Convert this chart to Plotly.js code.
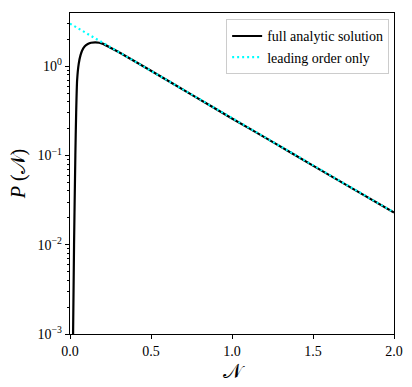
<!DOCTYPE html>
<html>
<head>
<meta charset="utf-8">
<script src="https://cdn.plot.ly/plotly-3.0.1.min.js"></script>
<style>
  html, body { margin: 0; padding: 0; background: white; }
  #chart { width: 412px; height: 387px; }
</style>
</head>
<body>
<div id="chart"></div>
<script>
// full analytic solution
var fullN = [0.019, 0.025, 0.033, 0.038, 0.044, 0.054, 0.065, 0.075, 0.09, 0.11, 0.13, 0.157, 0.18, 0.2, 0.25, 0.3, 0.5, 0.75, 1.0, 1.25, 1.5, 1.75, 2.0];
var fullP = [0.001, 0.01, 0.1, 0.3, 0.7, 1.07, 1.33, 1.5, 1.66, 1.77, 1.83, 1.85, 1.83, 1.79, 1.61, 1.44, 0.89, 0.48, 0.26, 0.142, 0.077, 0.042, 0.023];

// leading order only
var leadN = [0.0, 0.25, 0.5, 0.75, 1.0, 1.25, 1.5, 1.75, 2.0];
var leadP = [3.0, 1.63, 0.89, 0.48, 0.26, 0.142, 0.077, 0.042, 0.023];

var yTickVals = [0.001, 0.01, 0.1, 1];
var yTickText = ['10<sup>\u22123</sup>', '10<sup>\u22122</sup>', '10<sup>\u22121</sup>', '10<sup>0</sup>'];

var serif = '"Liberation Serif", "DejaVu Serif", serif';

var full = {
    x: fullN, y: fullP,
    type: 'scatter', mode: 'lines',
    name: 'full analytic solution',
    line: { color: 'black', width: 2.2, shape: 'spline', smoothing: 0.6 }
};

var lead = {
    x: leadN, y: leadP,
    type: 'scatter', mode: 'lines',
    name: 'leading order only',
    line: { color: '#00ffff', width: 2.2, dash: '2px,3px' }
};

var layout = {
    width: 412, height: 387,
    margin: { l: 70, r: 18, t: 13, b: 53 },
    paper_bgcolor: 'white',
    plot_bgcolor: 'white',
    font: { family: serif, size: 13, color: 'black' },
    showlegend: true,
    legend: {
        x: 0.985, y: 0.98, xanchor: 'right', yanchor: 'top',
        bgcolor: 'white', bordercolor: '#cccccc', borderwidth: 1,
        font: { family: serif, size: 14 },
        tracegroupgap: 0
    },
    xaxis: {
        range: [0, 2],
        tickvals: [0, 0.5, 1, 1.5, 2],
        tickformat: '.1f',
        ticks: 'outside', ticklen: 4, tickcolor: 'black',
        showline: true, linecolor: 'black', linewidth: 1.3, mirror: true,
        showgrid: false, zeroline: false,
        tickfont: { family: serif, size: 14 },
        title: { text: '\ud835\udca9', font: { family: serif, size: 20 }, standoff: 6 }
    },
    yaxis: {
        type: 'log',
        range: [-3, 0.596],
        tickmode: 'array',
        tickvals: yTickVals,
        ticktext: yTickText,
        ticks: 'outside', ticklen: 4, tickcolor: 'black',
        minor: { ticks: 'outside', ticklen: 2, tickcolor: 'black', dtick: 'D1', showgrid: false },
        showline: true, linecolor: 'black', linewidth: 1.3, mirror: true,
        showgrid: false, zeroline: false,
        tickfont: { family: serif, size: 14 },
        title: { text: '<i>P</i> (\ud835\udca9)', font: { family: serif, size: 20 }, standoff: 6 }
    }
};

Plotly.newPlot('chart', [full, lead], layout, { displayModeBar: false, staticPlot: true });
</script>
</body>
</html>
